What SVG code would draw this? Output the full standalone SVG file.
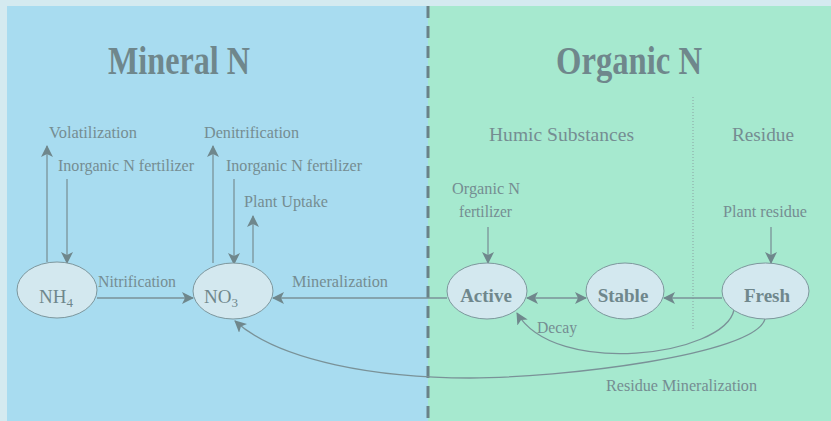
<svg xmlns="http://www.w3.org/2000/svg" width="831" height="421" viewBox="0 0 831 421">
<style>
.lbl{font-family:"Liberation Serif","Times New Roman",serif;font-size:16px;fill:#758d92}
.sec{font-family:"Liberation Serif","Times New Roman",serif;font-size:18px;fill:#758d92}
.ttl{font-family:"Liberation Serif","Times New Roman",serif;font-size:40px;font-weight:bold;fill:#6f878c}
.nd{fill:#d3e8ef;stroke:#7e979d;stroke-width:1}
.nt{font-family:"Liberation Serif","Times New Roman",serif;font-size:19px;fill:#6f878c;text-anchor:middle}
.nb{font-weight:bold}
.c{fill:none;stroke:#7a9298;stroke-width:1.3}
</style>
<defs>
<marker id="ah" markerWidth="12" markerHeight="12" refX="11" refY="6" orient="auto" markerUnits="userSpaceOnUse">
<path d="M0,0 L12,6 L0,12 L3,6 z" fill="#6f878c"/>
</marker>
<marker id="as" markerWidth="12" markerHeight="12" refX="1" refY="6" orient="auto" markerUnits="userSpaceOnUse">
<path d="M12,0 L0,6 L12,12 L9,6 z" fill="#6f878c"/>
</marker>
</defs>
<rect x="0" y="0" width="831" height="421" fill="#d4eaf0"/>
<rect x="7" y="6" width="421" height="415" fill="#a8dcf0"/>
<rect x="428" y="6" width="403" height="415" fill="#a6e9cf"/>
<line x1="428" y1="6" x2="428" y2="421" stroke="#6a8288" stroke-width="3" stroke-dasharray="12,8"/>
<line x1="693" y1="97" x2="693" y2="329" stroke="#8aa3a3" stroke-width="1" stroke-dasharray="1,2"/>

<text class="ttl" x="108" y="74" textLength="142" lengthAdjust="spacingAndGlyphs">Mineral N</text>
<text class="ttl" x="556" y="74" textLength="146" lengthAdjust="spacingAndGlyphs">Organic N</text>
<text class="sec" x="489" y="141" textLength="145" lengthAdjust="spacingAndGlyphs">Humic Substances</text>
<text class="sec" x="732" y="141" textLength="62" lengthAdjust="spacingAndGlyphs">Residue</text>

<g id="connectors">
<line class="c" x1="47" y1="262" x2="47" y2="146" marker-end="url(#ah)"/>
<line class="c" x1="67" y1="179" x2="67" y2="263" marker-end="url(#ah)"/>
<line class="c" x1="213" y1="263" x2="213" y2="146" marker-end="url(#ah)"/>
<line class="c" x1="234" y1="179" x2="234" y2="264" marker-end="url(#ah)"/>
<line class="c" x1="253" y1="263" x2="253" y2="216" marker-end="url(#ah)"/>
<line class="c" x1="97" y1="298" x2="193" y2="298" marker-end="url(#ah)"/>
<line class="c" x1="447" y1="298" x2="273" y2="298" marker-end="url(#ah)"/>
<line class="c" x1="527" y1="298" x2="586" y2="298" marker-start="url(#as)" marker-end="url(#ah)"/>
<line class="c" x1="722" y1="298" x2="664" y2="298" marker-end="url(#ah)"/>
<line class="c" x1="488" y1="227" x2="488" y2="263" marker-end="url(#ah)"/>
<line class="c" x1="771" y1="227" x2="771" y2="263" marker-end="url(#ah)"/>
<path class="c" d="M734,310 C724,356 555,378 517,313" marker-end="url(#ah)"/>
<path class="c" d="M765,319 C755,355 560,378 470,378 C380,378 280,362 235,321" marker-end="url(#ah)"/>
</g>

<g id="labels">
<text class="lbl" x="49" y="138" textLength="88" lengthAdjust="spacingAndGlyphs">Volatilization</text>
<text class="lbl" x="58" y="171" textLength="136" lengthAdjust="spacingAndGlyphs">Inorganic N fertilizer</text>
<text class="lbl" x="204" y="138" textLength="95" lengthAdjust="spacingAndGlyphs">Denitrification</text>
<text class="lbl" x="226" y="171" textLength="136" lengthAdjust="spacingAndGlyphs">Inorganic N fertilizer</text>
<text class="lbl" x="244" y="207" textLength="84" lengthAdjust="spacingAndGlyphs">Plant Uptake</text>
<text class="lbl" x="98" y="287" textLength="78" lengthAdjust="spacingAndGlyphs">Nitrification</text>
<text class="lbl" x="292" y="287" textLength="96" lengthAdjust="spacingAndGlyphs">Mineralization</text>
<text class="lbl" x="452" y="194" textLength="68" lengthAdjust="spacingAndGlyphs">Organic N</text>
<text class="lbl" x="459" y="217" textLength="53" lengthAdjust="spacingAndGlyphs">fertilizer</text>
<text class="lbl" x="723" y="217" textLength="84" lengthAdjust="spacingAndGlyphs">Plant residue</text>
<text class="lbl" x="537" y="333" textLength="40" lengthAdjust="spacingAndGlyphs">Decay</text>
<text class="lbl" x="606" y="391" textLength="151" lengthAdjust="spacingAndGlyphs">Residue Mineralization</text>
</g>

<g id="nh4">
<ellipse class="nd" cx="57" cy="290" rx="40" ry="28"/>
<text class="nt" x="56" y="303">NH<tspan font-size="13" dy="4">4</tspan></text>
</g>
<g id="no3">
<ellipse class="nd" cx="233" cy="291" rx="40" ry="28"/>
<text class="nt" x="221" y="303">NO<tspan font-size="13" dy="4">3</tspan></text>
</g>
<g id="active">
<ellipse class="nd" cx="487" cy="291" rx="40" ry="28"/>
<text class="nt nb" x="486" y="302">Active</text>
</g>
<g id="stable">
<ellipse class="nd" cx="625" cy="291" rx="39" ry="28"/>
<text class="nt nb" x="623" y="302">Stable</text>
</g>
<g id="fresh">
<ellipse class="nd" cx="765.5" cy="291" rx="43.5" ry="28"/>
<text class="nt nb" x="767" y="302">Fresh</text>
</g>
</svg>
